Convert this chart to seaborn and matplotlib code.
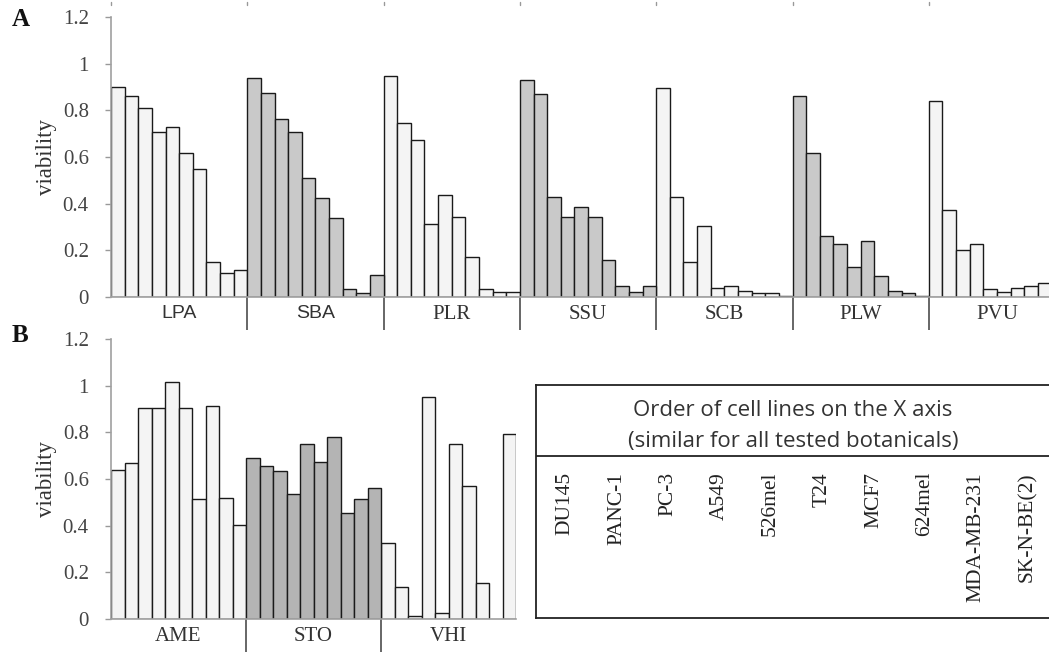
import numpy as np
import pandas as pd
import matplotlib
matplotlib.use("Agg")
import matplotlib.pyplot as plt
import seaborn as sns

# botanicals, panel A
groups_a = ["LPA", "SBA", "PLR", "SSU", "SCB", "PLW", "PVU"]
vals_a = {
    "LPA": [0.901, 0.861, 0.812, 0.708, 0.729, 0.617, 0.547, 0.149, 0.102, 0.116],
    "SBA": [0.938, 0.875, 0.765, 0.708, 0.511, 0.423, 0.338, 0.033, 0.016, 0.095],
    "PLR": [0.946, 0.744, 0.673, 0.311, 0.436, 0.345, 0.172, 0.033, 0.023, 0.023],
    "SSU": [0.931, 0.868, 0.428, 0.345, 0.387, 0.345, 0.159, 0.047, 0.023, 0.047],
    "SCB": [0.897, 0.428, 0.150, 0.305, 0.040, 0.047, 0.026, 0.017, 0.017, 0.006],
    "PLW": [0.861, 0.617, 0.262, 0.226, 0.130, 0.242, 0.089, 0.026, 0.017, 0.006],
    "PVU": [0.840, 0.374, 0.202, 0.226, 0.033, 0.023, 0.040, 0.047, 0.060, 0.060],
}
# panel B
groups_b = ["AME", "STO", "VHI"]
vals_b = {
    "AME": [0.639, 0.667, 0.903, 0.903, 1.014, 0.903, 0.514, 0.911, 0.520, 0.403],
    "STO": [0.689, 0.656, 0.633, 0.537, 0.751, 0.674, 0.779, 0.453, 0.514, 0.563],
    "VHI": [0.327, 0.139, 0.014, 0.953, 0.027, 0.751, 0.570, 0.153, np.nan, 0.791],
}
cell_lines = ["DU145", "PANC-1", "PC-3", "A549", "526mel", "T24", "MCF7",
              "624mel", "MDA-MB-231", "SK-N-BE(2)"]

shade_a = ["light", "gray", "light", "gray", "light", "gray", "light"]
shade_b = ["light", "dark", "light"]
pal = {"light": "#f4f4f4", "gray": "#c9c9c9", "dark": "#b4b4b4"}

SERIF = "Liberation Serif"
sns.set_style("white")
plt.rcParams["font.family"] = [SERIF, "DejaVu Serif"]

W, H = 1049, 659
fig = plt.figure(figsize=(W / 100, H / 100), dpi=100)


def make_df(groups, vals, shades):
    rows = []
    for g, s in zip(groups, shades):
        for i, v in enumerate(vals[g]):
            rows.append({"pos": f"{g}_{i}", "value": v, "shade": s})
    return pd.DataFrame(rows)


def draw(ax, groups, vals, shades, sans_labels=(), top_marks=True):
    df = make_df(groups, vals, shades)
    sns.barplot(data=df, x="pos", y="value", hue="shade", palette=pal,
                order=list(df["pos"]), dodge=False, width=1.0,
                edgecolor="#1a1a1a", linewidth=1.0, errorbar=None,
                legend=False, ax=ax)
    n = len(df)
    ax.set_xlim(-0.5, n - 0.5)
    ax.set_ylim(0, 1.2)
    ticks = np.arange(0, 1.21, 0.2)
    ax.set_yticks(ticks)
    ax.set_yticklabels([f"{t:g}" for t in ticks], family=SERIF)
    centers = [10 * k + 4.5 for k in range(len(groups))]
    ax.set_xticks(centers)
    ax.set_xticklabels(groups)
    ax.set_xticks([10 * k - 0.5 for k in range(1, len(groups))], minor=True)
    ax.tick_params(axis="x", which="major", length=0, pad=6,
                   labelsize=15, labelcolor="#333333")
    ax.tick_params(axis="x", which="minor", bottom=True, length=24,
                   width=1.4, color="#666666", direction="out")
    ax.tick_params(axis="y", length=4, width=1, color="#999999",
                   direction="out", left=True, pad=12, labelsize=15,
                   labelcolor="#444444")
    for lab in ax.get_xticklabels():
        if lab.get_text() in sans_labels:
            lab.set_fontfamily("Liberation Sans")
            lab.set_fontsize(14)
    for s in ["top", "right"]:
        ax.spines[s].set_visible(False)
    for s in ["left", "bottom"]:
        ax.spines[s].set_color("#a0a0a0")
        ax.spines[s].set_linewidth(1.2)
    ax.set_xlabel("")
    ax.set_ylabel("viability", fontsize=16.5, color="#333333", labelpad=4)
    if top_marks:
        # small marks above the plot at the group borders
        for k in range(len(groups)):
            ax.plot([10 * k - 0.5] * 2, [1.252, 1.265], color="#999999",
                    lw=1, clip_on=False)


bar_w = 136.3 / 10
ax_a = fig.add_axes([111 / W, (H - 297) / H, 70 * bar_w / W, 280 / H])
draw(ax_a, groups_a, vals_a, shade_a, sans_labels=("LPA", "SBA"))

bar_wb = 135.0 / 10
ax_b = fig.add_axes([111 / W, (H - 619) / H, 30 * bar_wb / W, 280 / H])
draw(ax_b, groups_b, vals_b, shade_b, top_marks=False)

fig.text(12 / W, 1 - 19 / H, "A", fontsize=18, fontweight="bold",
         va="center", ha="left", color="#111111")
fig.text(12 / W, 1 - 336 / H, "B", fontsize=18, fontweight="bold",
         va="center", ha="left", color="#111111")

# box with the order of cell lines
box = fig.add_axes([536 / W, (H - 618) / H, (1055 - 536) / W, 233 / H])
box.set_xlim(0, 1)
box.set_ylim(0, 1)
box.set_xticks([])
box.set_yticks([])
for s in box.spines.values():
    s.set_color("#222222")
    s.set_linewidth(1.3)
box.spines["right"].set_visible(False)
box.axhline((618 - 456) / 233, color="#222222", lw=1.3)
box.text(0.495, (618 - 410) / 233, "Order of cell lines on the X axis",
         ha="center", va="center", fontsize=16, color="#333333",
         family=["Open Sans", "DejaVu Sans"])
box.text(0.495, (618 - 442) / 233, "(similar for all tested botanicals)",
         ha="center", va="center", fontsize=16, color="#333333",
         family=["Open Sans", "DejaVu Sans"])
for i, name in enumerate(cell_lines):
    box.text(0.056 + 0.1 * i * (514 / 519), (618 - 472) / 233, name,
             rotation=90, ha="center", va="top", fontsize=15.5,
             color="#222222")

fig.savefig("out.png", dpi=100)
